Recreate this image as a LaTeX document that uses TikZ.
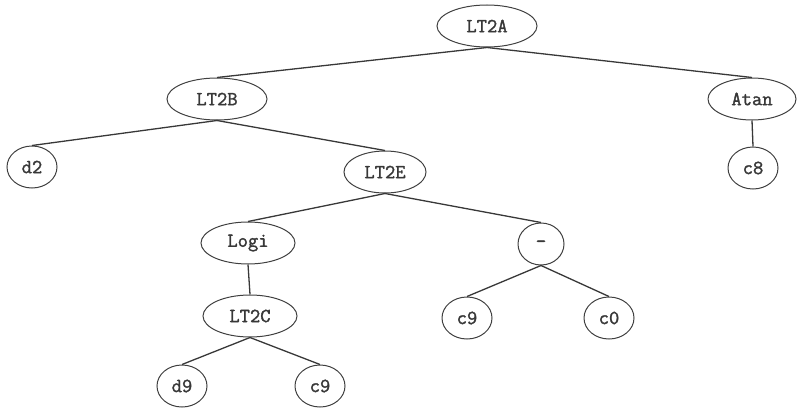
\documentclass[tikz,border=0pt]{standalone}
\usepackage{fontspec}
\newfontfamily\treefont[FakeBold=1.6]{Latin Modern Mono}
\usepackage{tikz}
\usetikzlibrary{shapes.geometric}
\tikzset{
    tree node/.style={
        draw=black!75,
        ellipse,
        font=\treefont\fontsize{20}{20}\selectfont,
        text=black!78,
        minimum width=100pt,
        minimum height=42pt,
        inner sep=1pt,
        line width=1pt
    },
    tree leaf/.style={tree node, minimum width=50pt},
    tree edge/.style={line width=1.3pt, draw=black!78}
}

\begin{document}
\begin{tikzpicture}[x=1pt,y=-1pt]
    \useasboundingbox (0,0) rectangle (802,412);

    \node[tree node] (lt2a) at (487,26) {LT2A};
    \node[tree node] (lt2b) at (217,99) {LT2B};
    \node[tree node, minimum width=88pt] (atan) at (752,99) {Atan};

    \node[tree leaf] (d2) at (32,167) {d2};
    \node[tree node, minimum width=82pt] (lt2e) at (385,172) {LT2E};
    \node[tree leaf] (c8) at (753,168) {c8};

    \node[tree node, minimum width=94pt] (logi) at (248,243) {Logi};
    \node[tree leaf, minimum width=46pt] (minus) at (541,244) {-};

    \node[tree node, minimum width=94pt] (lt2c) at (250,316) {LT2C};
    \node[tree leaf] (c9r) at (467,318) {c9};
    \node[tree leaf] (c0) at (609,318) {c0};

    \node[tree leaf] (d9) at (182,386) {d9};
    \node[tree leaf] (c9l) at (320,386) {c9};

    \foreach \parent/\child in {lt2a/lt2b, lt2a/atan, lt2b/d2, lt2b/lt2e, atan/c8,
                                lt2e/logi, lt2e/minus, logi/lt2c, minus/c9r, minus/c0,
                                lt2c/d9, lt2c/c9l}
        \draw[tree edge] (\parent.south) -- (\child.north);
\end{tikzpicture}
\end{document}
